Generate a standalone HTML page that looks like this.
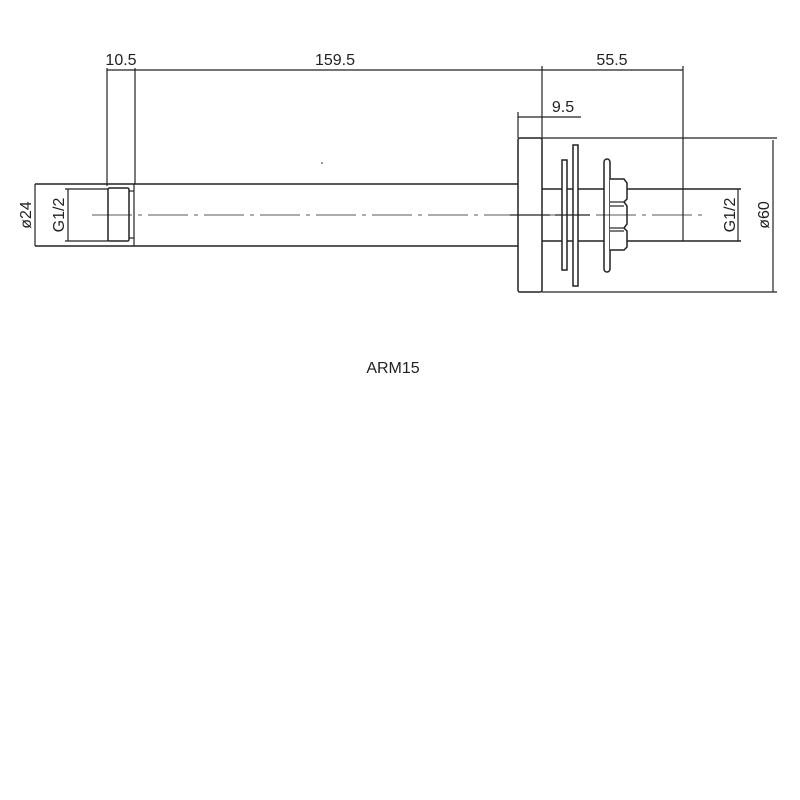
<!DOCTYPE html>
<html><head><style>body{margin:0;background:#fff}svg{display:block}</style></head><body>
<svg width="800" height="800" viewBox="0 0 800 800" xmlns="http://www.w3.org/2000/svg">
<rect width="800" height="800" fill="#fff"/>
<g stroke="#222" stroke-width="1.2" fill="none">
<line x1="107" y1="70" x2="683" y2="70"/>
<line x1="107" y1="68" x2="107" y2="186"/>
<line x1="135" y1="68" x2="135" y2="184"/>
<line x1="542" y1="66" x2="542" y2="138"/>
<line x1="683" y1="66" x2="683" y2="189"/>
<line x1="518" y1="117" x2="581" y2="117"/>
<line x1="518" y1="112" x2="518" y2="138"/>
<line x1="35" y1="184" x2="518" y2="184" stroke-width="1.5"/>
<line x1="35" y1="246" x2="518" y2="246" stroke-width="1.5"/>
<line x1="134" y1="184" x2="134" y2="246"/>
<rect x="108" y="188" width="21" height="53" rx="1.5" stroke-width="1.5"/>
<line x1="129" y1="191" x2="134" y2="191"/>
<line x1="129" y1="238" x2="134" y2="238"/>
<line x1="65" y1="189" x2="108" y2="189"/>
<line x1="65" y1="241" x2="108" y2="241"/>
<line x1="35" y1="184" x2="35" y2="246"/>
<line x1="68" y1="189" x2="68" y2="241"/>
<rect x="518" y="138" width="24" height="154" rx="2" stroke-width="1.5"/>
<line x1="542" y1="138" x2="777" y2="138"/>
<line x1="542" y1="292" x2="777" y2="292"/>
<line x1="773" y1="140" x2="773" y2="292"/>
<line x1="542" y1="189" x2="741" y2="189" stroke-width="1.5"/>
<line x1="542" y1="241" x2="741" y2="241" stroke-width="1.5"/>
<line x1="683" y1="189" x2="683" y2="241"/>
<line x1="738" y1="189" x2="738" y2="241"/>
<rect x="562" y="160" width="5" height="110" fill="#fff" stroke-width="1.5"/>
<rect x="573" y="145" width="5" height="141" fill="#fff" stroke-width="1.5"/>
<rect x="604" y="159" width="6" height="113" rx="3" fill="#fff" stroke-width="1.5"/>
<path d="M610 179 H624 L627 183 V199 L624 202 L627 206 V224 L624 228 L627 231 V247 L624 250 H610" fill="#fff" stroke-width="1.5"/>
<line x1="610" y1="202" x2="624" y2="202"/>
<line x1="610" y1="206" x2="624" y2="206"/>
<line x1="610" y1="228" x2="624" y2="228"/>
<line x1="610" y1="231" x2="624" y2="231"/>
<line x1="92" y1="215" x2="705" y2="215" stroke-width="0.8" stroke-dasharray="40,6,4,6"/>
<line x1="510" y1="215" x2="550" y2="215"/>
<line x1="555" y1="215" x2="590" y2="215"/>
</g>
<circle cx="322" cy="163" r="0.8" fill="#222"/>
<g font-family="Liberation Sans, sans-serif" font-size="16" fill="#222">
<text x="121" y="65" text-anchor="middle">10.5</text>
<text x="335" y="65" text-anchor="middle">159.5</text>
<text x="612" y="65" text-anchor="middle">55.5</text>
<text x="563" y="112" text-anchor="middle">9.5</text>
<text x="393" y="373" text-anchor="middle">ARM15</text>
<text transform="translate(31,215) rotate(-90)" text-anchor="middle">ø24</text>
<text transform="translate(64,215) rotate(-90)" text-anchor="middle">G1/2</text>
<text transform="translate(735,215) rotate(-90)" text-anchor="middle">G1/2</text>
<text transform="translate(769,215) rotate(-90)" text-anchor="middle">ø60</text>
</g>
</svg>
</body></html>
